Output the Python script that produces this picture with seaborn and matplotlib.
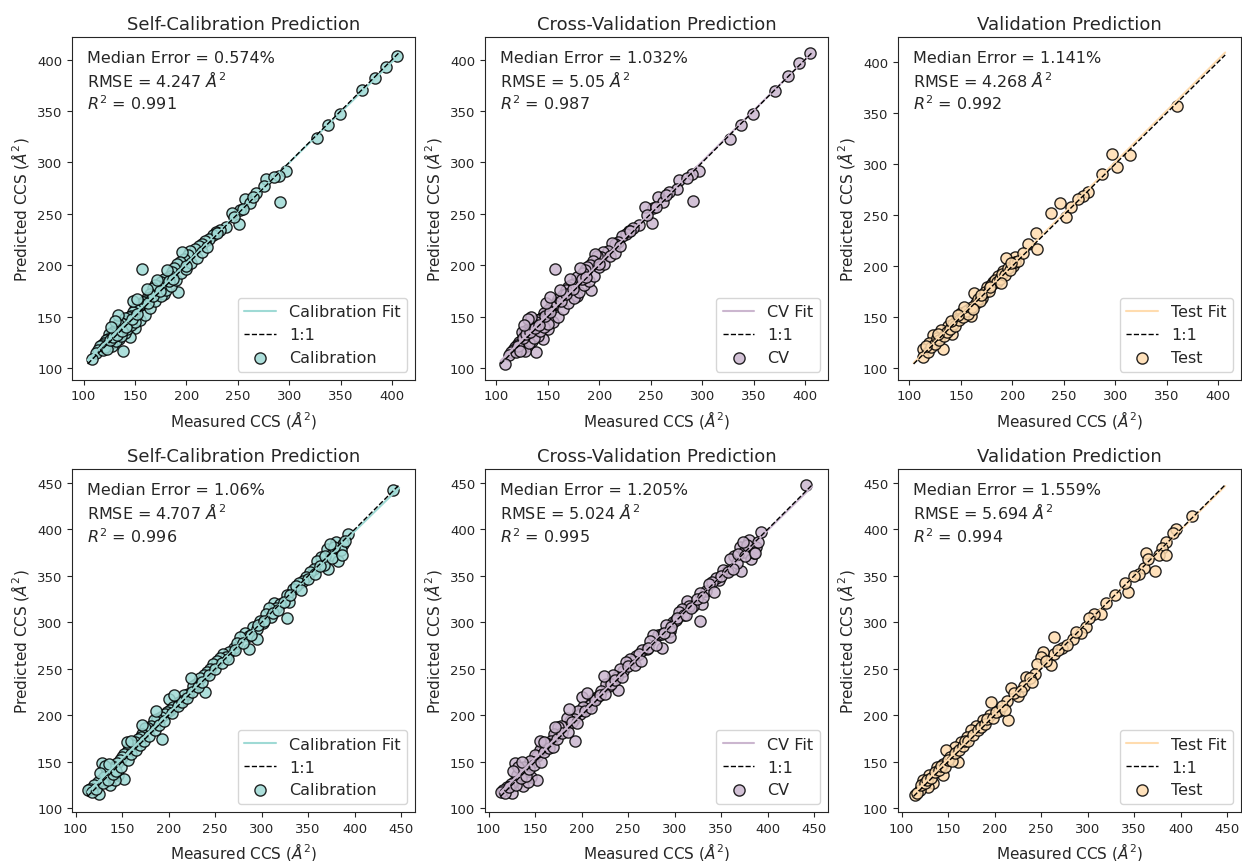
import numpy as np
import matplotlib
matplotlib.use("Agg")
import matplotlib.pyplot as plt
import seaborn as sns

# ---- datos ----
# fila superior: calibracion / validacion cruzada (mismos valores medidos)
top_meas = [405, 394, 383, 371, 349, 338, 327, 297, 290, 291, 277, 276, 268, 257, 262, 252, 244, 251, 239, 233,
            229, 226, 222, 218, 215, 212, 208, 204, 202, 198, 196, 194, 191, 188, 186, 184, 181, 178, 175, 172,
            170, 168, 165, 192, 178, 162, 160, 158, 156, 157, 153, 150, 148, 146, 144, 142, 140, 138, 136, 134,
            150, 132, 130, 128, 127, 125, 124, 122, 120, 118, 116, 114, 112, 108, 138, 145, 135, 140, 130, 155,
            160, 165, 170, 175, 180, 185, 190, 195, 200, 205, 210, 215, 220, 125, 128, 132, 136, 142, 146, 150,
            119, 121, 123, 126, 129, 133, 137, 141, 147, 152, 163, 168, 174, 183, 187, 200, 230, 246, 255, 265,
            285, 134, 131, 127, 148, 152, 162, 171, 181]
top_cal_pred = [404, 393, 382, 371, 347, 336, 324, 292, 287, 262, 284, 277, 270, 264, 261, 254, 251, 240, 237, 234,
                232, 229, 226, 224, 221, 219, 216, 214, 210, 206, 213, 203, 201, 197, 193, 190, 188, 187, 184, 180,
                181, 178, 172, 174, 172, 168, 165, 164, 162, 196, 158, 157, 155, 151, 150, 146, 149, 143, 144, 143,
                139, 138, 136, 134, 131, 133, 128, 127, 124, 122, 121, 118, 115, 109, 117, 130, 128, 134, 125, 147,
                152, 158, 165, 170, 176, 180, 186, 192, 196, 202, 207, 213, 218, 122, 121, 126, 131, 138, 142, 145,
                118, 120, 119, 127, 130, 132, 136, 140, 148, 153, 163, 170, 175, 185, 187, 199, 231, 247, 255, 266,
                286, 152, 146, 140, 165, 167, 177, 186, 195]
top_cv_pred = [407, 397, 384, 370, 347, 336, 323, 292, 289, 263, 283, 274, 271, 266, 262, 256, 257, 241, 239, 236,
               233, 230, 228, 223, 221, 222, 214, 213, 208, 209, 211, 204, 200, 198, 195, 192, 187, 189, 182, 181,
               179, 176, 171, 176, 170, 166, 167, 163, 161, 196, 160, 156, 153, 154, 149, 148, 147, 145, 141, 146,
               138, 139, 134, 136, 128, 135, 126, 125, 122, 120, 118, 116, 113, 104, 116, 128, 126, 131, 121, 145,
               150, 157, 163, 168, 174, 181, 185, 190, 198, 201, 209, 212, 219, 119, 117, 124, 129, 136, 140, 143,
               116, 121, 117, 129, 133, 135, 139, 142, 151, 155, 165, 172, 177, 187, 189, 201, 233, 249, 257, 268,
               285, 150, 148, 142, 163, 169, 176, 187, 197]

# fila superior: conjunto de prueba
top_test_meas = [360, 297, 314, 302, 287, 274, 269, 264, 257, 252, 246, 238, 223, 215, 224, 203, 194, 201, 191, 186,
                 181, 175, 163, 171, 165, 158, 150, 160, 146, 137, 131, 141, 123, 133, 119, 113, 113, 118, 121, 125,
                 127, 129, 134, 136, 139, 142, 144, 148, 152, 155, 157, 161, 167, 169, 173, 177, 179, 183, 185, 188,
                 190, 193, 196, 198, 203, 206, 210, 170, 178, 153, 140, 128, 116, 199, 189, 162, 147]
top_test_pred = [357, 310, 309, 297, 290, 273, 269, 266, 258, 248, 262, 252, 232, 222, 217, 209, 208, 200, 195, 190,
                 184, 179, 174, 169, 164, 158, 154, 151, 148, 141, 137, 133, 132, 119, 125, 119, 111, 116, 121, 124,
                 129, 127, 131, 135, 138, 143, 141, 147, 150, 156, 153, 160, 168, 166, 175, 176, 181, 186, 184, 187,
                 192, 191, 198, 196, 204, 205, 213, 172, 179, 160, 146, 133, 122, 203, 183, 158, 152]

# fila inferior: calibracion / validacion cruzada
bot_meas = [441, 393, 380, 388, 370, 364, 375, 382, 371, 385, 378, 367, 360, 374, 356, 352, 348, 345, 340, 334,
            327, 337, 330, 313, 320, 327, 316, 308, 305, 310, 298, 302, 291, 295, 282, 286, 277, 295, 286, 270,
            274, 265, 259, 262, 255, 252, 248, 245, 241, 238, 234, 239, 230, 226, 221, 217, 213, 209, 200, 205,
            202, 198, 196, 192, 188, 184, 181, 193, 178, 175, 172, 170, 167, 164, 161, 158, 155, 152, 150, 148,
            145, 129, 141, 138, 134, 146, 152, 127, 131, 124, 120, 116, 113, 125, 137, 142, 118, 122, 130, 135,
            140, 144, 149, 156, 160, 165, 169, 174, 179, 185, 190, 195, 204, 210, 215, 220, 225, 232, 236, 243,
            250, 257, 264, 272, 280, 289, 296, 303, 312, 318, 324, 331, 342, 350, 358, 363, 368, 376, 386, 390,
            132, 136, 126, 155, 160, 171, 187, 206, 224]
bot_cal_pred = [442, 395, 386, 384, 379, 370, 373, 366, 357, 378, 381, 362, 366, 384, 358, 354, 349, 345, 342, 336,
                330, 339, 322, 321, 320, 305, 315, 316, 309, 306, 302, 299, 295, 293, 289, 285, 284, 282, 271, 273,
                278, 268, 266, 263, 262, 259, 255, 250, 247, 243, 240, 225, 234, 232, 223, 222, 216, 213, 218, 209,
                206, 204, 202, 198, 196, 195, 189, 175, 186, 186, 180, 177, 175, 171, 168, 165, 161, 158, 155, 152,
                149, 149, 145, 142, 139, 136, 132, 130, 134, 128, 125, 121, 120, 116, 125, 130, 118, 121, 127, 131,
                137, 140, 145, 152, 158, 163, 168, 173, 178, 184, 190, 194, 203, 210, 214, 219, 225, 231, 236, 243,
                250, 256, 261, 270, 278, 286, 297, 302, 310, 313, 322, 329, 335, 347, 352, 361, 371, 369, 373, 388,
                146, 148, 138, 171, 173, 190, 205, 222, 240]
bot_cv_pred = [448, 397, 389, 381, 381, 372, 376, 368, 355, 375, 383, 364, 368, 386, 355, 356, 346, 348, 344, 334,
               332, 341, 320, 323, 318, 302, 318, 314, 311, 308, 300, 303, 297, 291, 287, 288, 286, 284, 273, 271,
               280, 270, 264, 266, 259, 261, 257, 248, 250, 241, 243, 227, 232, 234, 226, 220, 218, 211, 220, 207,
               209, 202, 205, 196, 194, 197, 187, 173, 189, 188, 178, 180, 173, 169, 170, 163, 163, 156, 157, 150,
               151, 149, 143, 144, 141, 134, 130, 128, 136, 126, 123, 120, 118, 117, 124, 128, 117, 123, 125, 133,
               135, 142, 147, 150, 161, 165, 166, 175, 181, 182, 193, 192, 205, 208, 217, 222, 223, 234, 238, 241,
               253, 254, 259, 273, 276, 289, 295, 305, 308, 316, 325, 327, 333, 350, 354, 358, 374, 371, 375, 386,
               144, 150, 140, 173, 171, 188, 207, 224, 242]

# fila inferior: conjunto de prueba
bot_test_meas = [412, 395, 384, 380, 363, 377, 384, 373, 361, 355, 350, 344, 330, 320, 314, 307, 298, 293, 284, 273,
                 264, 264, 252, 250, 246, 261, 243, 234, 232, 218, 225, 213, 196, 205, 214, 195, 188, 180, 175, 170,
                 164, 157, 148, 161, 152, 145, 138, 130, 145, 123, 134, 129, 120, 114, 117, 121, 125, 127, 132, 136,
                 140, 142, 147, 150, 154, 158, 162, 166, 168, 172, 177, 182, 185, 190, 192, 198, 202, 208, 211, 221,
                 228, 238, 240, 255, 268, 278, 288, 302, 340, 365, 392]
bot_test_pred = [414, 400, 386, 380, 375, 373, 373, 355, 359, 352, 350, 333, 329, 321, 309, 309, 295, 289, 282, 273,
                 284, 266, 268, 263, 255, 254, 245, 241, 232, 229, 221, 216, 214, 205, 195, 200, 195, 189, 184, 177,
                 171, 166, 163, 150, 155, 148, 145, 136, 136, 130, 127, 123, 120, 114, 117, 125, 127, 131, 133, 139,
                 141, 146, 145, 152, 151, 160, 163, 167, 172, 173, 179, 184, 188, 191, 196, 197, 204, 210, 206, 224,
                 226, 240, 236, 258, 270, 276, 290, 305, 342, 368, 396]

titles = ["Self-Calibration Prediction", "Cross-Validation Prediction", "Validation Prediction"]
set_names = ["Calibration", "CV", "Test"]
colors = ["#9fdad5", "#cbb6cf", "#ffdcaf"]

stats_top = [("0.574", "4.247", "0.991"), ("1.032", "5.05", "0.987"), ("1.141", "4.268", "0.992")]
stats_bot = [("1.06", "4.707", "0.996"), ("1.205", "5.024", "0.995"), ("1.559", "5.694", "0.994")]

sns.set_style("ticks")
plt.rcParams["font.family"] = ["DejaVu Sans"]

fig, axes = plt.subplots(2, 3, figsize=(12.42, 8.62), dpi=100)
fig.subplots_adjust(left=0.058, right=0.999, top=0.956, bottom=0.057, wspace=0.205, hspace=0.262)

rows = [
    [(top_meas, top_cal_pred), (top_meas, top_cv_pred), (top_test_meas, top_test_pred)],
    [(bot_meas, bot_cal_pred), (bot_meas, bot_cv_pred), (bot_test_meas, bot_test_pred)],
]
stats = [stats_top, stats_bot]

for r in range(2):
    # rango de la linea 1:1 comun a toda la fila
    all_vals = np.concatenate([np.r_[m, p] for m, p in rows[r]])
    lo, hi = all_vals.min(), all_vals.max()
    ends = np.array([lo, hi])
    for c in range(3):
        ax = axes[r, c]
        meas = np.array(rows[r][c][0], dtype=float)
        pred = np.array(rows[r][c][1], dtype=float)
        slope, inter = np.polyfit(meas, pred, 1)

        sns.lineplot(x=ends, y=slope * ends + inter, color=colors[c], lw=1.5,
                     label=f"{set_names[c]} Fit", ax=ax)
        ax.plot(ends, ends, "k--", lw=1, label="1:1")
        sns.scatterplot(x=meas, y=pred, color=colors[c], edgecolor="black", linewidth=1,
                        s=65, alpha=0.85, label=set_names[c], ax=ax)

        me, rmse, r2 = stats[r][c]
        ax.text(0.045, 0.927, f"Median Error = {me}%", transform=ax.transAxes, va="baseline", fontsize=11.5)
        ax.text(0.045, 0.858, f"RMSE = {rmse} $\\AA^2$", transform=ax.transAxes, va="baseline", fontsize=11.5)
        ax.text(0.045, 0.789, f"$R^2$ = {r2}", transform=ax.transAxes, va="baseline", fontsize=11.5)

        ax.set_title(titles[c], fontsize=13)
        ax.set_xlabel("Measured CCS ($\\AA^2$)", fontsize=11)
        ax.set_ylabel("Predicted CCS ($\\AA^2$)", fontsize=11)
        ax.tick_params(labelsize=9.5)
        ax.legend(loc="lower right", fontsize=11.5)

fig.savefig("out.png", dpi=100)
